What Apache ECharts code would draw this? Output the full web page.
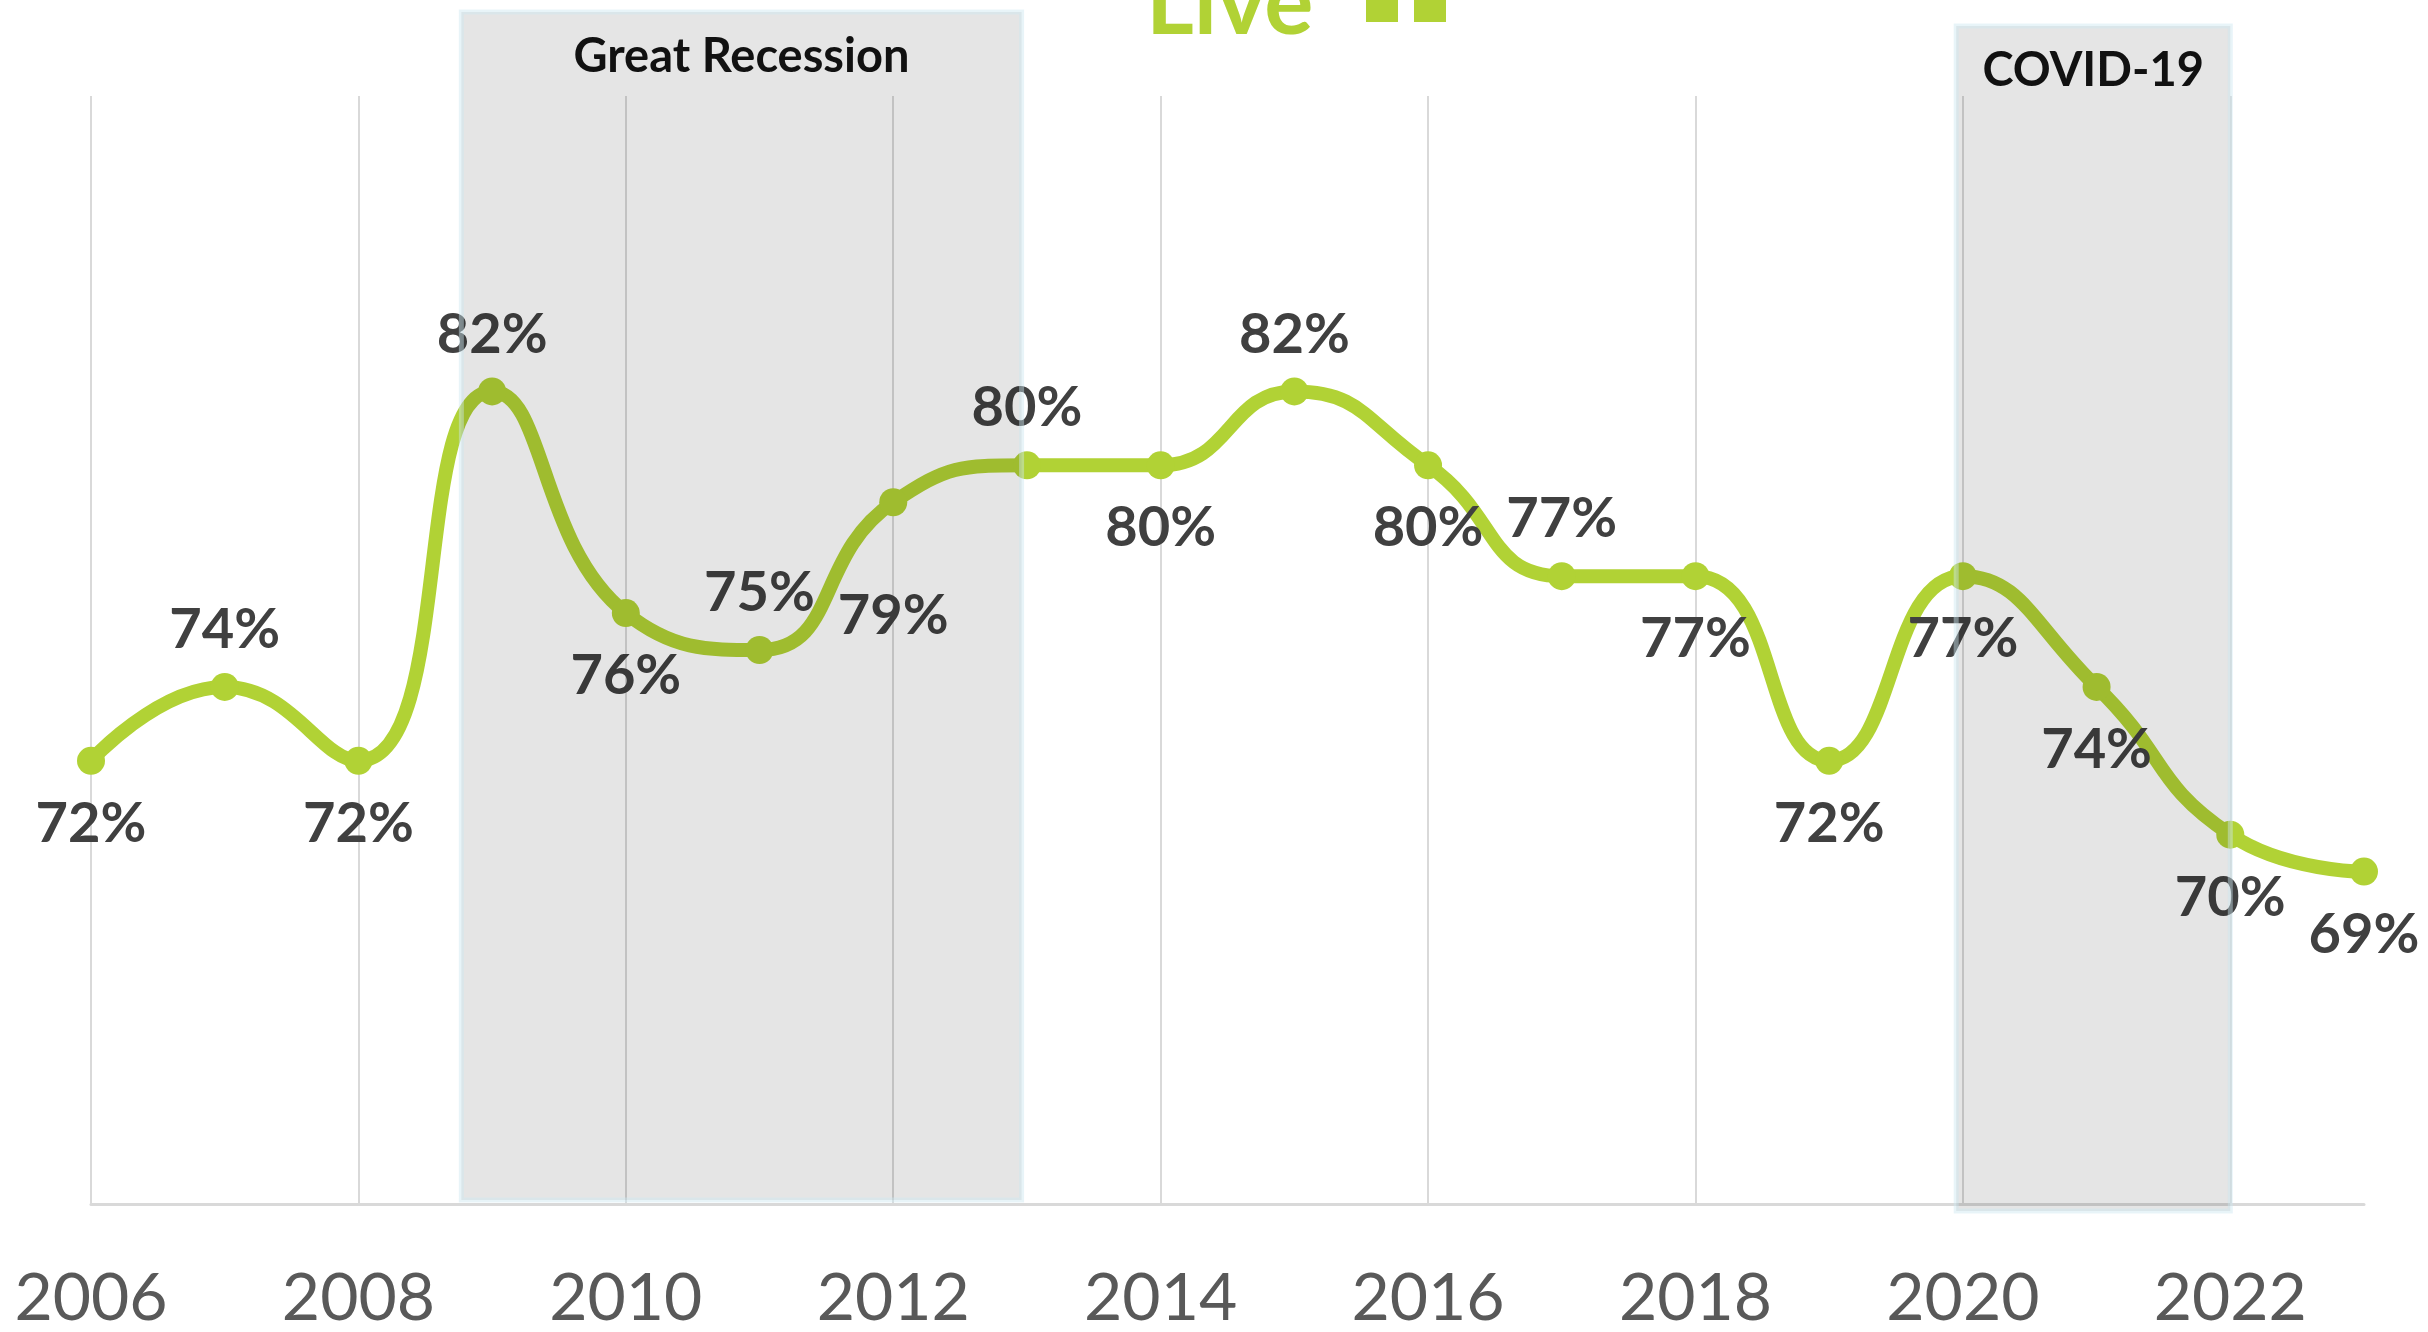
<!DOCTYPE html>
<html>
<head>
<meta charset="utf-8">
<script src="https://cdn.jsdelivr.net/npm/echarts@6/dist/echarts.min.js"></script>
<style>
  html, body { margin: 0; padding: 0; background: #fff; }
  #chart { width: 2428px; height: 1332px; }
</style>
</head>
<body>
<div id="chart"></div>
<script>
  // data
  var years = ['2006', '2007', '2008', '2009', '2010', '2011', '2012', '2013', '2014',
               '2015', '2016', '2017', '2018', '2019', '2020', '2021', '2022', '2023'];
  var shares = [72, 74, 72, 82, 76, 75, 79, 80, 80, 82, 80, 77, 77, 72, 77, 74, 70, 69];
  var shadeNames = ['Great Recession', 'COVID-19'];
  var shadeStart = [2008.77, 2019.95];
  var shadeEnd = [2012.96, 2022.0];

  // where each value label sits: t = above, b = below, bb = further below
  var labelSide = ['b', 't', 'b', 't', 'b', 't', 'bb', 't', 'b', 't', 'b', 't', 'b', 'b', 'b', 'b', 'b', 'b'];
  // pixel padding of the shaded boxes [top, bottom] relative to the plot
  var shadePad = [[-84, -4], [-70, 7]];

  var green = '#b1d235';
  var chart = echarts.init(document.getElementById('chart'));

  var lineData = shares.map(function (v, i) {
    var side = labelSide[i];
    return {
      value: v,
      label: side === 't' ? { position: 'top', distance: 15 }
           : side === 'bb' ? { position: 'bottom', distance: 72 }
           : { position: 'bottom', distance: 21 }
    };
  });

  var option = {
    backgroundColor: '#fff',
    animation: false,
    grid: { left: 91, right: 64, top: 96, bottom: 128 },
    graphic: [
      { type: 'text', left: 1146, top: -42, z: 10,
        style: { text: 'Live', font: 'bold 92px Lato', fill: green } },
      { type: 'rect', shape: { x: 1366, y: 0, width: 32, height: 22 }, style: { fill: green } },
      { type: 'rect', shape: { x: 1414, y: 0, width: 32, height: 22 }, style: { fill: green } }
    ],
    xAxis: [
      {
        type: 'category',
        data: years,
        boundaryGap: false,
        axisLine: { lineStyle: { color: '#d9d9d9', width: 3 } },
        axisTick: { show: false },
        axisLabel: { interval: 1, margin: 62, color: '#595959', fontFamily: 'Lato', fontSize: 66 },
        splitLine: { show: true, interval: 1, lineStyle: { color: '#d9d9d9', width: 2 } }
      },
      { type: 'value', min: 2006, max: 2023, show: false }
    ],
    yAxis: { type: 'value', min: 60, max: 90, show: false, splitLine: { show: false } },
    series: [
      {
        type: 'line',
        data: lineData,
        smooth: 0.5,
        symbol: 'circle',
        symbolSize: 28,
        itemStyle: { color: green },
        lineStyle: { color: green, width: 14 },
        label: {
          show: true,
          formatter: '{c}%',
          fontFamily: 'Lato',
          fontWeight: 'bold',
          fontSize: 56,
          color: '#404040'
        },
        z: 2
      },
      {
        type: 'custom',
        xAxisIndex: 1,
        yAxisIndex: 0,
        z: 5,
        clip: false,
        data: shadeStart.map(function (s, i) { return [s, shadeEnd[i]]; }),
        encode: { x: [0, 1] },
        renderItem: function (params, api) {
          var i = params.dataIndex;
          var p0 = api.coord([api.value(0), 90]);
          var p1 = api.coord([api.value(1), 60]);
          var top = p0[1] + shadePad[i][0];
          var bottom = p1[1] + shadePad[i][1];
          return {
            type: 'group',
            children: [
              {
                type: 'rect',
                shape: { x: p0[0], y: top, width: p1[0] - p0[0], height: bottom - top },
                style: { fill: 'rgba(0,0,0,0.1)', stroke: 'rgba(205,230,240,0.45)', lineWidth: 5 }
              },
              {
                type: 'text',
                style: {
                  text: shadeNames[i],
                  x: (p0[0] + p1[0]) / 2,
                  y: top + 45,
                  align: 'center',
                  verticalAlign: 'middle',
                  font: 'bold 47px Lato',
                  fill: '#111'
                }
              }
            ]
          };
        }
      }
    ]
  };

  chart.setOption(option);
</script>
</body>
</html>
